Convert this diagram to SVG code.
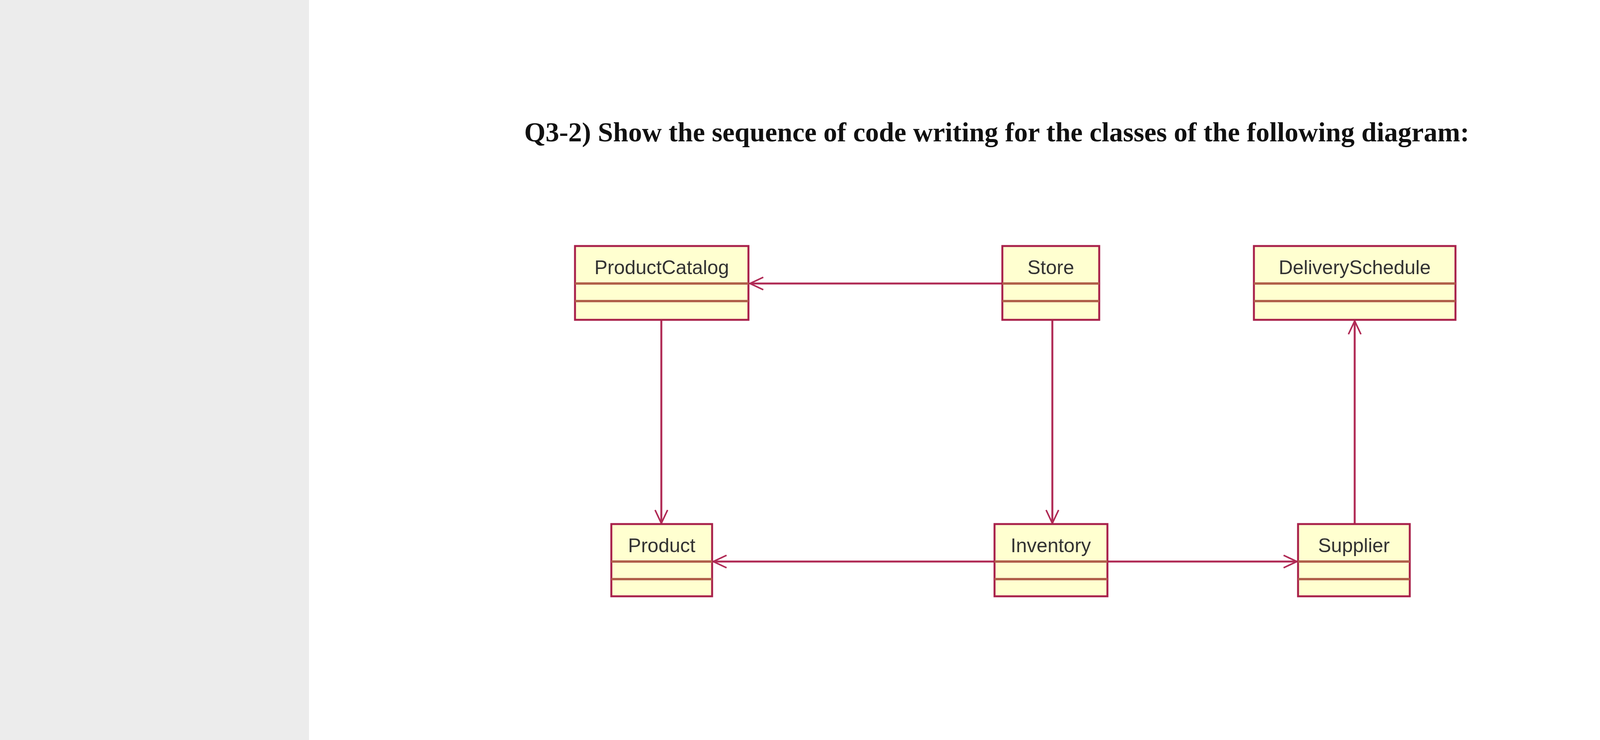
<svg xmlns="http://www.w3.org/2000/svg" width="5395" height="1895" viewBox="0 0 5395 1895">
<defs>
<style>
.box{fill:#ffffd0;stroke:#a8204a;stroke-width:5}
.div{stroke:#b0604a;stroke-width:6}
.lbl{font-family:"Liberation Sans",Arial,sans-serif;font-size:50px;fill:#333;text-anchor:middle}
.con{stroke:#b02a55;stroke-width:5;fill:none}
</style>
<marker id="arr" viewBox="0 0 20 20" refX="19" refY="10" markerWidth="8" markerHeight="8" markerUnits="strokeWidth" orient="auto"><path d="M2,2 L19,10 L2,18" fill="none" stroke="#b02a55" stroke-width="2"/></marker>
</defs>
<rect width="5395" height="1895" fill="#ececec"/>
<rect x="791" y="0" width="3819" height="1895" fill="#ffffff"/>
<text x="1342" y="362" font-family="Liberation Serif,'Times New Roman',serif" font-weight="bold" font-size="70" fill="#111">Q3-2) Show the sequence of code writing for the classes of the following diagram:</text>
<g id="connectors">
<line class="con" x1="2566" y1="726" x2="1920" y2="726" marker-end="url(#arr)"/>
<line class="con" x1="1693" y1="819" x2="1693" y2="1340" marker-end="url(#arr)"/>
<line class="con" x1="2694" y1="819" x2="2694" y2="1340" marker-end="url(#arr)"/>
<line class="con" x1="3468" y1="1342" x2="3468" y2="822" marker-end="url(#arr)"/>
<line class="con" x1="2546" y1="1438" x2="1826" y2="1438" marker-end="url(#arr)"/>
<line class="con" x1="2835" y1="1438" x2="3320" y2="1438" marker-end="url(#arr)"/>
</g>
<g id="ProductCatalog"><rect class="box" x="1472" y="630" width="444" height="189"/><line class="div" x1="1472" y1="726" x2="1916" y2="726"/><line class="div" x1="1472" y1="771" x2="1916" y2="771"/><text class="lbl" x="1694" y="702">ProductCatalog</text></g>
<g id="Store"><rect class="box" x="2566" y="630" width="248" height="189"/><line class="div" x1="2566" y1="726" x2="2814" y2="726"/><line class="div" x1="2566" y1="771" x2="2814" y2="771"/><text class="lbl" x="2690" y="702">Store</text></g>
<g id="DeliverySchedule"><rect class="box" x="3210" y="630" width="516" height="189"/><line class="div" x1="3210" y1="726" x2="3726" y2="726"/><line class="div" x1="3210" y1="771" x2="3726" y2="771"/><text class="lbl" x="3468" y="702">DeliverySchedule</text></g>
<g id="Product"><rect class="box" x="1565" y="1342" width="258" height="185"/><line class="div" x1="1565" y1="1438" x2="1823" y2="1438"/><line class="div" x1="1565" y1="1483" x2="1823" y2="1483"/><text class="lbl" x="1694" y="1414">Product</text></g>
<g id="Inventory"><rect class="box" x="2546" y="1342" width="289" height="185"/><line class="div" x1="2546" y1="1438" x2="2835" y2="1438"/><line class="div" x1="2546" y1="1483" x2="2835" y2="1483"/><text class="lbl" x="2690" y="1414">Inventory</text></g>
<g id="Supplier"><rect class="box" x="3323" y="1342" width="286" height="185"/><line class="div" x1="3323" y1="1438" x2="3609" y2="1438"/><line class="div" x1="3323" y1="1483" x2="3609" y2="1483"/><text class="lbl" x="3466" y="1414">Supplier</text></g>
</svg>
